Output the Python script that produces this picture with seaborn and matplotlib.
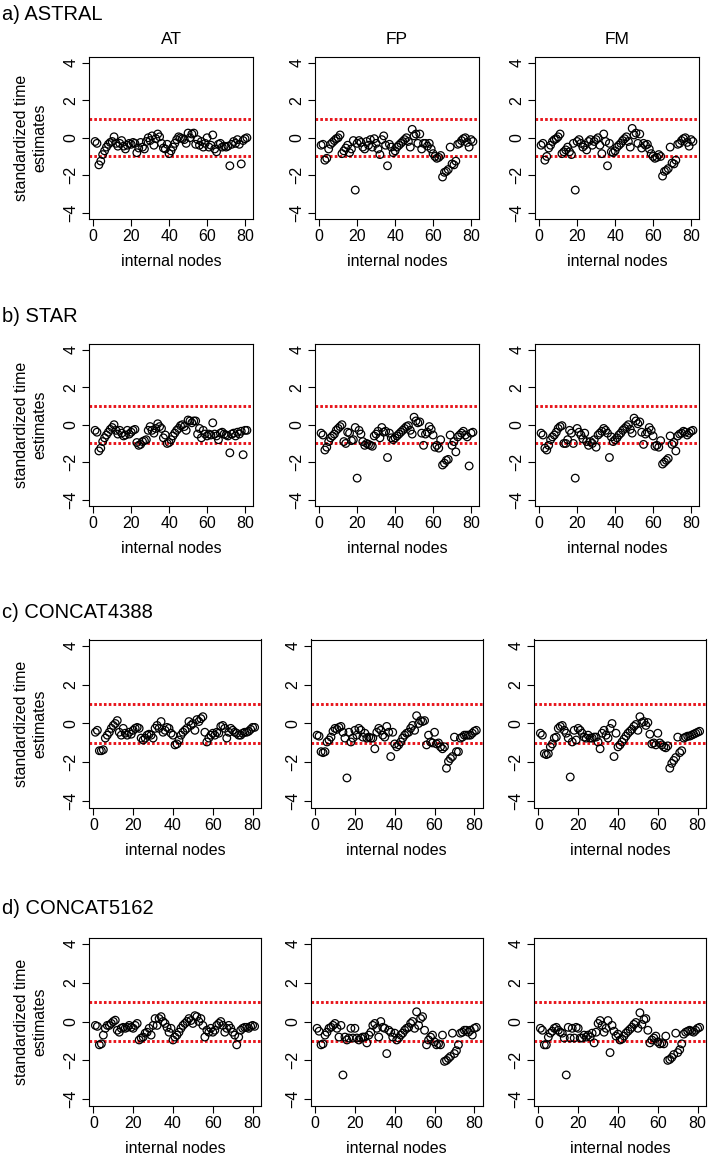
import numpy as np
import pandas as pd
import matplotlib
matplotlib.use("Agg")
import matplotlib.pyplot as plt
import seaborn as sns

# ---------------- data ----------------
nodes = list(range(1, 82))
row_titles = ["a) ASTRAL", "b) STAR", "c) CONCAT4388", "d) CONCAT5162"]
col_titles = ["AT", "FP", "FM"]
x_ticks = [0, 20, 40, 60, 80]
y_ticks = [-4, -2, 0, 2, 4]
ref_lines = [-1, 1]

astral_at = [-0.2, -0.3, -1.45, -1.25, -0.9, -0.7, -0.5, -0.35, -0.25, -0.2,
             0.05, -0.3, -0.45, -0.3, -0.15, -0.45, -0.6, -0.4, -0.3, -0.35,
             -0.25, -0.3, -0.8, -0.55, -0.25, -0.5, -0.6, -0.2, 0.0, -0.15,
             0.1, -0.4, -0.05, 0.2, 0.05, -0.3, -0.55, -0.6, -0.35, -0.85,
             -0.7, -0.5, -0.3, -0.1, 0.05, 0.0, -0.05, -0.1, -0.3, 0.25,
             0.0, 0.2, 0.25, -0.35, -0.1, -0.4, -0.2, -0.5, -0.3, 0.0,
             -0.5, -0.4, 0.15, -0.6, -0.75, -0.35, -0.3, -0.5, -0.45, -0.5,
             -0.45, -1.5, -0.35, -0.2, -0.3, -0.1, -0.35, -1.4, -0.15, -0.05,
             0.0]
astral_fp = [-0.4, -0.35, -1.2, -1.1, -0.6, -0.35, -0.25, -0.15, -0.05, 0.0,
             0.15, -0.85, -0.7, -0.55, -0.4, -0.8, -0.6, -0.15, -2.8, -0.3,
             -0.15, -0.25, -0.5, -0.6, -0.2, -0.4, -0.1, -0.5, -0.05, -0.3,
             -0.6, -0.9, -0.1, 0.1, -0.4, -1.5, -0.35, -0.5, -0.8, -0.7,
             -0.5, -0.4, -0.3, -0.2, -0.1, 0.0, -0.2, -0.5, 0.45, 0.1,
             0.2, -0.3, 0.2, -0.6, -0.3, -0.3, -0.45, -0.3, -0.6, -0.85,
             -1.0, -1.1, -1.05, -0.95, -2.1, -1.85, -1.8, -1.7, -0.5, -1.4,
             -1.45, -1.25, -0.35, -0.3, -0.15, -0.05, 0.0, -0.25, -0.5, -0.1,
             -0.2]
astral_fm = [-0.4, -0.3, -1.2, -1.0, -0.55, -0.4, -0.2, -0.1, -0.05, 0.05,
             0.2, -0.85, -0.75, -0.65, -0.5, -0.75, -0.9, -0.3, -2.8, -0.2,
             -0.1, -0.3, -0.5, -0.4, -0.65, -0.2, -0.1, -0.4, -0.2, -0.1,
             0.0, -0.4, -0.85, 0.2, -0.2, -1.5, -0.3, -0.75, -0.8, -0.7,
             -0.5, -0.4, -0.3, -0.15, -0.05, 0.05, -0.2, -0.5, 0.5, 0.15,
             0.25, -0.3, 0.2, -0.55, -0.3, -0.4, -0.35, -0.6, -0.85, -1.0,
             -1.1, -1.05, -0.9, -1.0, -2.05, -1.8, -1.75, -1.65, -0.5, -1.35,
             -1.4, -1.2, -0.35, -0.3, -0.15, -0.05, 0.0, -0.25, -0.45, -0.1,
             -0.2]

star_at = [-0.3, -0.4, -1.4, -1.25, -0.9, -0.7, -0.55, -0.4, -0.25, -0.15,
           0.0, -0.3, -0.5, -0.3, -0.45, -0.6, -0.55, -0.3, -0.5, -0.4,
           -0.3, -0.25, -0.95, -1.1, -1.05, -0.9, -0.85, -0.8, -0.3, -0.1,
           -0.3, -0.45, -0.2, 0.05, -0.1, -0.2, -0.7, -0.55, -1.0, -0.95,
           -0.8, -0.6, -0.45, -0.3, -0.2, -0.05, 0.0, -0.1, -0.3, 0.25,
           0.2, 0.1, 0.2, 0.2, -0.5, -0.2, -0.7, -0.3, -0.5, -0.6,
           -0.5, -0.55, 0.1, -0.5, -0.6, -0.8, -0.45, -0.4, -0.5, -0.55,
           -0.6, -1.5, -0.5, -0.45, -0.6, -0.4, -0.5, -0.35, -1.6, -0.3,
           -0.3]
star_fp = [-0.45, -0.55, -1.35, -1.2, -0.9, -0.7, -0.6, -0.5, -0.3, -0.2,
           -0.1, 0.0, -0.9, -1.0, -0.4, -0.45, -0.85, -0.8, -0.15, -2.85,
           -0.3, -0.5, -0.9, -1.1, -1.0, -1.05, -1.1, -1.15, -0.6, -0.5,
           -0.35, -0.7, -0.15, -0.4, -0.35, -1.75, -0.45, -0.7, -0.8, -0.7,
           -0.6, -0.5, -0.4, -0.3, -0.2, -0.1, -0.05, -0.3, -0.5, 0.4,
           0.2, 0.1, 0.15, -0.45, -1.1, -0.5, -0.4, -0.1, -0.25, -0.55,
           -1.2, -1.1, -1.25, -0.8, -2.15, -2.05, -1.9, -1.85, -0.55, -1.1,
           -0.9, -1.45, -0.65, -0.55, -0.45, -0.35, -0.55, -0.65, -2.2, -0.45,
           -0.4]
star_fm = [-0.45, -0.55, -1.25, -1.35, -1.1, -0.8, -0.65, -0.55, -0.4, -0.2,
           -0.1, -0.05, -1.0, -1.0, -0.8, -0.3, -0.45, -1.0, -2.85, -0.2,
           -0.4, -0.55, -0.75, -0.45, -0.9, -1.1, -0.9, -1.0, -0.8, -1.2,
           -0.55, -0.45, -0.35, -0.2, -0.3, -0.45, -1.75, -0.65, -0.9, -0.8,
           -0.7, -0.55, -0.45, -0.3, -0.2, -0.1, 0.0, -0.25, -0.45, 0.35,
           0.2, 0.05, 0.15, -0.4, -1.05, -0.5, -0.4, -0.15, -0.3, -0.6,
           -1.15, -1.1, -1.2, -0.85, -2.1, -2.0, -1.9, -1.8, -0.6, -1.05,
           -0.95, -1.4, -0.6, -0.5, -0.45, -0.35, -0.4, -0.55, -0.45, -0.35,
           -0.3]

concat4388_at = [-0.45, -0.35, -1.4, -1.4, -1.35, -0.75, -0.6, -0.45, -0.25, -0.1,
                 0.0, 0.15, -0.45, -0.6, -0.25, -0.5, -0.6, -0.45, -0.55, -0.35,
                 -0.25, -0.2, -0.25, -0.75, -0.85, -0.75, -0.6, -0.55, -0.6, -0.75,
                 -0.25, -0.1, -0.25, 0.1, -0.45, -0.35, -0.2, -0.25, -0.5, -0.6,
                 -1.1, -1.05, -0.85, -0.6, -0.45, -0.35, -0.25, 0.1, -0.1, 0.0,
                 -0.35, 0.2, 0.1, 0.25, 0.35, -0.45, -0.95, -0.75, -0.6, -0.5,
                 -0.6, -0.45, -0.5, -0.15, -0.1, -0.25, -0.75, -0.45, -0.25, -0.35,
                 -0.45, -0.5, -0.6, -0.6, -0.5, -0.45, -0.45, -0.4, -0.3, -0.2,
                 -0.2]
concat4388_fp = [-0.6, -0.65, -1.45, -1.5, -1.45, -0.95, -0.85, -0.7, -0.4, -0.25,
                 -0.3, -0.2, -0.15, -0.45, -0.75, -2.8, -0.45, -0.95, -0.75, -0.35,
                 -0.6, -0.25, -0.35, -0.7, -0.5, -0.75, -0.7, -0.75, -0.75, -1.3,
                 -0.45, -0.25, -0.35, -0.6, -0.7, -0.15, -0.45, -1.7, -0.45, -1.05,
                 -1.2, -1.1, -0.95, -0.75, -0.6, -0.5, -0.45, -0.25, -0.1, -0.35,
                 0.4, 0.0, 0.15, 0.1, 0.15, -1.1, -0.6, -0.95, -1.0, -0.45,
                 -1.05, -1.0, -1.2, -1.3, -1.2, -2.3, -1.95, -1.8, -1.7, -0.7,
                 -1.45, -1.45, -0.75, -0.7, -0.6, -0.6, -0.6, -0.6, -0.5, -0.4,
                 -0.35]
concat4388_fm = [-0.5, -0.6, -1.55, -1.6, -1.55, -1.2, -1.05, -0.75, -0.7, -0.25,
                 -0.15, -0.1, -0.35, -0.5, -0.75, -2.75, -0.95, -0.35, -0.85, -0.25,
                 -0.35, -0.5, -0.7, -0.75, -0.6, -0.75, -0.75, -0.7, -0.7, -0.95,
                 -1.3, -0.5, -0.35, -0.6, -0.75, -0.25, 0.0, -1.7, -0.5, -1.2,
                 -1.1, -0.95, -0.8, -0.65, -0.5, -0.4, -0.3, -0.15, -0.05, -0.35,
                 0.35, 0.05, 0.1, -0.1, 0.05, -0.55, -1.05, -1.0, -1.1, -0.5,
                 -1.0, -1.1, -1.2, -1.25, -1.15, -2.3, -2.05, -1.9, -1.75, -0.7,
                 -1.5, -1.4, -0.75, -0.7, -0.65, -0.65, -0.6, -0.55, -0.5, -0.45,
                 -0.4]

concat5162_at = [-0.2, -0.25, -1.2, -1.15, -0.7, -0.35, -0.2, -0.2, -0.1, 0.0,
                 0.07, -0.45, -0.55, -0.35, -0.3, -0.35, -0.3, -0.2, -0.3, -0.35,
                 -0.2, -0.1, -0.95, -0.85, -0.8, -0.6, -0.55, -0.35, -0.7, -0.2,
                 0.15, -0.2, 0.15, 0.25, 0.0, -0.1, -0.3, -0.55, -0.35, -0.95,
                 -0.8, -0.7, -0.55, -0.35, -0.2, -0.1, 0.0, 0.15, 0.05, -0.1,
                 0.3, 0.25, 0.0, 0.15, -0.2, -0.8, -0.45, -0.55, -0.35, -0.55,
                 -0.45, -0.2, -0.1, 0.0, -0.2, -0.55, -0.35, -0.2, -0.35, -0.55,
                 -0.7, -1.2, -0.8, -0.45, -0.35, -0.3, -0.3, -0.35, -0.25, -0.2,
                 -0.25]
concat5162_fp = [-0.35, -0.5, -1.2, -1.15, -0.7, -0.55, -0.35, -0.3, -0.2, -0.1,
                 -0.35, -0.8, -0.2, -2.75, -0.8, -0.95, -0.85, -0.35, -0.85, -0.35,
                 -0.85, -0.95, -0.85, -0.8, -0.8, -1.1, -0.7, -0.55, -0.2, -0.1,
                 -0.35, -0.8, 0.0, -0.3, -0.35, -1.65, -0.45, -0.55, -0.8, -0.6,
                 -0.95, -0.85, -0.7, -0.6, -0.45, -0.35, -0.3, -0.1, 0.0, -0.35,
                 0.5, -0.2, 0.15, 0.25, -0.45, -1.2, -0.95, -0.8, -0.7, -1.05,
                 -1.2, -1.15, -1.2, -0.7, -2.05, -2.0, -1.9, -1.8, -0.6, -1.65,
                 -1.5, -1.2, -0.6, -0.55, -0.45, -0.45, -0.55, -0.45, -0.7, -0.35,
                 -0.3]
concat5162_fm = [-0.35, -0.45, -1.2, -1.2, -0.8, -0.6, -0.5, -0.35, -0.3, -0.45,
                 -0.55, -0.6, -0.85, -2.75, -0.3, -0.85, -0.35, -0.85, -0.3, -0.35,
                 -0.85, -0.85, -0.7, -0.8, -0.7, -0.8, -0.6, -1.1, -0.55, -0.1,
                 0.05, -0.2, -0.55, -0.35, 0.05, -1.6, -0.2, -0.5, -0.75, -0.65,
                 -0.95, -0.9, -0.75, -0.6, -0.5, -0.4, -0.3, -0.15, -0.05, -0.35,
                 0.45, -0.15, 0.1, 0.15, -0.45, -1.1, -0.95, -0.85, -0.75, -1.05,
                 -1.15, -1.1, -1.15, -0.75, -2.0, -1.95, -1.85, -1.7, -0.6, -1.6,
                 -1.45, -1.15, -0.65, -0.55, -0.5, -0.45, -0.5, -0.55, -0.45, -0.35,
                 -0.3]

series = [
    [astral_at, astral_fp, astral_fm],
    [star_at, star_fp, star_fm],
    [concat4388_at, concat4388_fp, concat4388_fm],
    [concat5162_at, concat5162_fp, concat5162_fm],
]

# ---------------- style ----------------
sns.set_theme(style="white")
plt.rcParams["font.family"] = ["Liberation Sans", "DejaVu Sans"]

W, H = 708, 1160
fig = plt.figure(figsize=(W / 100, H / 100), dpi=100)
fig.patch.set_facecolor("white")


def add_ax(left, top, w, h):
    return fig.add_axes([left / W, 1 - (top + h) / H, w / W, h / H])


# layout (pixels): top, height, width, lefts
layout = [
    (57.0, 161.5, 164, [89, 315, 535]),
    (343.7, 162.0, 164, [89, 315, 535]),
    (639.5, 168.0, 172, [89, 310.7, 534]),
    (937.5, 168.0, 172, [89, 310.7, 534]),
]
row_label_y = [14, 316, 612, 909]

for r, (top, h, w, lefts) in enumerate(layout):
    for c in range(3):
        ax = add_ax(lefts[c], top, w, h)
        df = pd.DataFrame({"node": nodes, "value": series[r][c]})
        for yl in ref_lines:
            ax.axhline(yl, color="#e8141b", lw=2.1, ls=(0, (0.9, 0.75)), zorder=1)
        sns.scatterplot(data=df, x="node", y="value", ax=ax, s=30,
                        marker="o", color="black", linewidth=0.9,
                        legend=False, zorder=3)
        coll = ax.collections[-1]
        coll.set_facecolor("none")
        coll.set_edgecolor("black")
        ax.set_xlim(-2.2, 84.2)
        ax.set_ylim(-4.32, 4.32)
        ax.set_xticks(x_ticks)
        ax.set_yticks(y_ticks)
        ax.set_yticklabels([str(v).replace("-", "\u2212") for v in y_ticks],
                           rotation=90, va="center")
        ax.tick_params(direction="out", length=5, width=0.8, labelsize=11.5,
                       pad=2.5, color="black", labelcolor="black",
                       bottom=True, left=True)
        for sp in ax.spines.values():
            sp.set_visible(True)
            sp.set_color("black")
            sp.set_linewidth(0.8)
        ax.grid(False)
        ax.set_xlabel("internal nodes", fontsize=11.5, labelpad=7, color="black")
        ax.set_ylabel("")
        if c == 0:
            fig.text(31 / W, 1 - (top + h / 2) / H, "standardized time\nestimates",
                     rotation=90, ha="center", va="center", fontsize=11.5,
                     linespacing=1.3, color="black")
        if r == 0:
            fig.text((lefts[c] + w / 2) / W, 1 - 39 / H, col_titles[c],
                     ha="center", va="center", fontsize=12.5, color="black")
    fig.text(2 / W, 1 - row_label_y[r] / H, row_titles[r], ha="left",
             va="center", fontsize=14.5, color="black")

fig.savefig("out.png", dpi=100, facecolor="white")
